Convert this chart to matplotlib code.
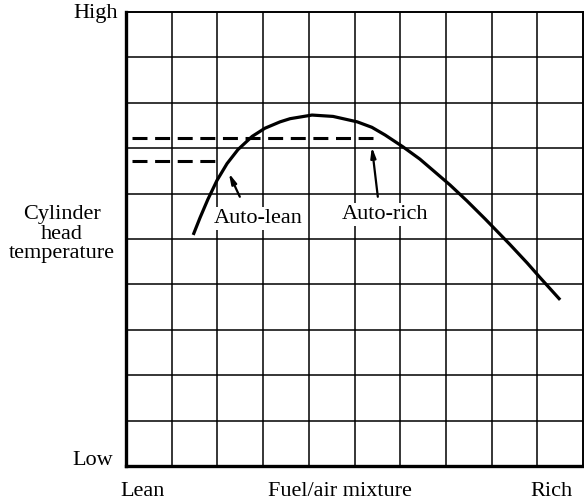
import matplotlib
matplotlib.use("Agg")
import matplotlib.pyplot as plt

# curve (grid units: 10 x 10 cells)
curve_x = [1.47, 1.62, 1.79, 1.99, 2.21, 2.45, 2.76, 3.04, 3.37, 3.59, 4.07,
           4.53, 5.06, 5.38, 5.67, 6.06, 6.43, 6.72, 7.09, 7.46, 7.86,
           8.40, 8.78, 9.06, 9.50]
curve_y = [5.09, 5.47, 5.87, 6.29, 6.66, 6.97, 7.26, 7.44, 7.58, 7.65, 7.73,
           7.70, 7.58, 7.46, 7.29, 7.03, 6.76, 6.51, 6.19, 5.84, 5.44,
           4.88, 4.47, 4.15, 3.66]

# dashed reference levels: (y, x_start, x_end)
auto_rich_level = (7.22, 0.13, 5.40)
auto_lean_level = (6.72, 0.13, 1.99)

y_labels = ["High", "Low"]
x_labels = ["Lean", "Fuel/air mixture", "Rich"]
y_title = "Cylinder\nhead\ntemperature"

plt.rcParams['font.family'] = ['Liberation Serif', 'DejaVu Serif']

fig = plt.figure(figsize=(5.84, 5.04), dpi=100)
ax = fig.add_axes([0.2158, 0.0754, 0.7825, 0.9008])
ax.set_xlim(0, 10)
ax.set_ylim(0, 10)

# grid
for i in range(1, 10):
    ax.axvline(i, color='black', lw=1.1, zorder=1)
    ax.axhline(i, color='black', lw=1.1, zorder=1)

for side in ['top', 'right']:
    ax.spines[side].set_linewidth(1.4)
for side in ['left', 'bottom']:
    ax.spines[side].set_linewidth(2.4)
ax.set_xticks([])
ax.set_yticks([])

# curve
ax.plot(curve_x, curve_y, color='black', lw=2.3, zorder=3,
        solid_capstyle='butt', solid_joinstyle='round')

# dashed levels
for lvl in [auto_rich_level, auto_lean_level]:
    ax.plot([lvl[1], lvl[2]], [lvl[0], lvl[0]], color='black', lw=2.2,
            dashes=(4.9, 2.5), dash_capstyle='butt', zorder=3)

# annotations
arrow = dict(arrowstyle='-|>,head_length=0.6,head_width=0.15', color='black', lw=1.6,
             shrinkA=0, shrinkB=0)
ax.annotate("", xy=(2.25, 6.45), xytext=(2.49, 5.93), arrowprops=arrow, zorder=4)
ax.annotate("", xy=(5.38, 7.03), xytext=(5.51, 5.93), arrowprops=arrow, zorder=4)

box = dict(facecolor='white', edgecolor='none', pad=1.5)
ax.text(2.89, 5.46, "Auto-lean", fontsize=16, ha='center', va='center', bbox=box, zorder=5)
ax.text(5.67, 5.53, "Auto-rich", fontsize=16, ha='center', va='center', bbox=box, zorder=5)

# axis labels
ax.text(-0.18, 9.96, y_labels[0], fontsize=16, ha='right', va='center', clip_on=False)
ax.text(-0.28, 0.13, y_labels[1], fontsize=16, ha='right', va='center', clip_on=False)
ax.text(-1.40, 5.11, y_title, fontsize=16, ha='center', va='center',
        multialignment='center', linespacing=1.05, clip_on=False)

ax.text(0.37, -0.57, x_labels[0], fontsize=16, ha='center', va='center', clip_on=False)
ax.text(4.68, -0.57, x_labels[1], fontsize=16, ha='center', va='center', clip_on=False)
ax.text(9.30, -0.57, x_labels[2], fontsize=16, ha='center', va='center', clip_on=False)

fig.savefig("out.png", dpi=100, facecolor='white')
